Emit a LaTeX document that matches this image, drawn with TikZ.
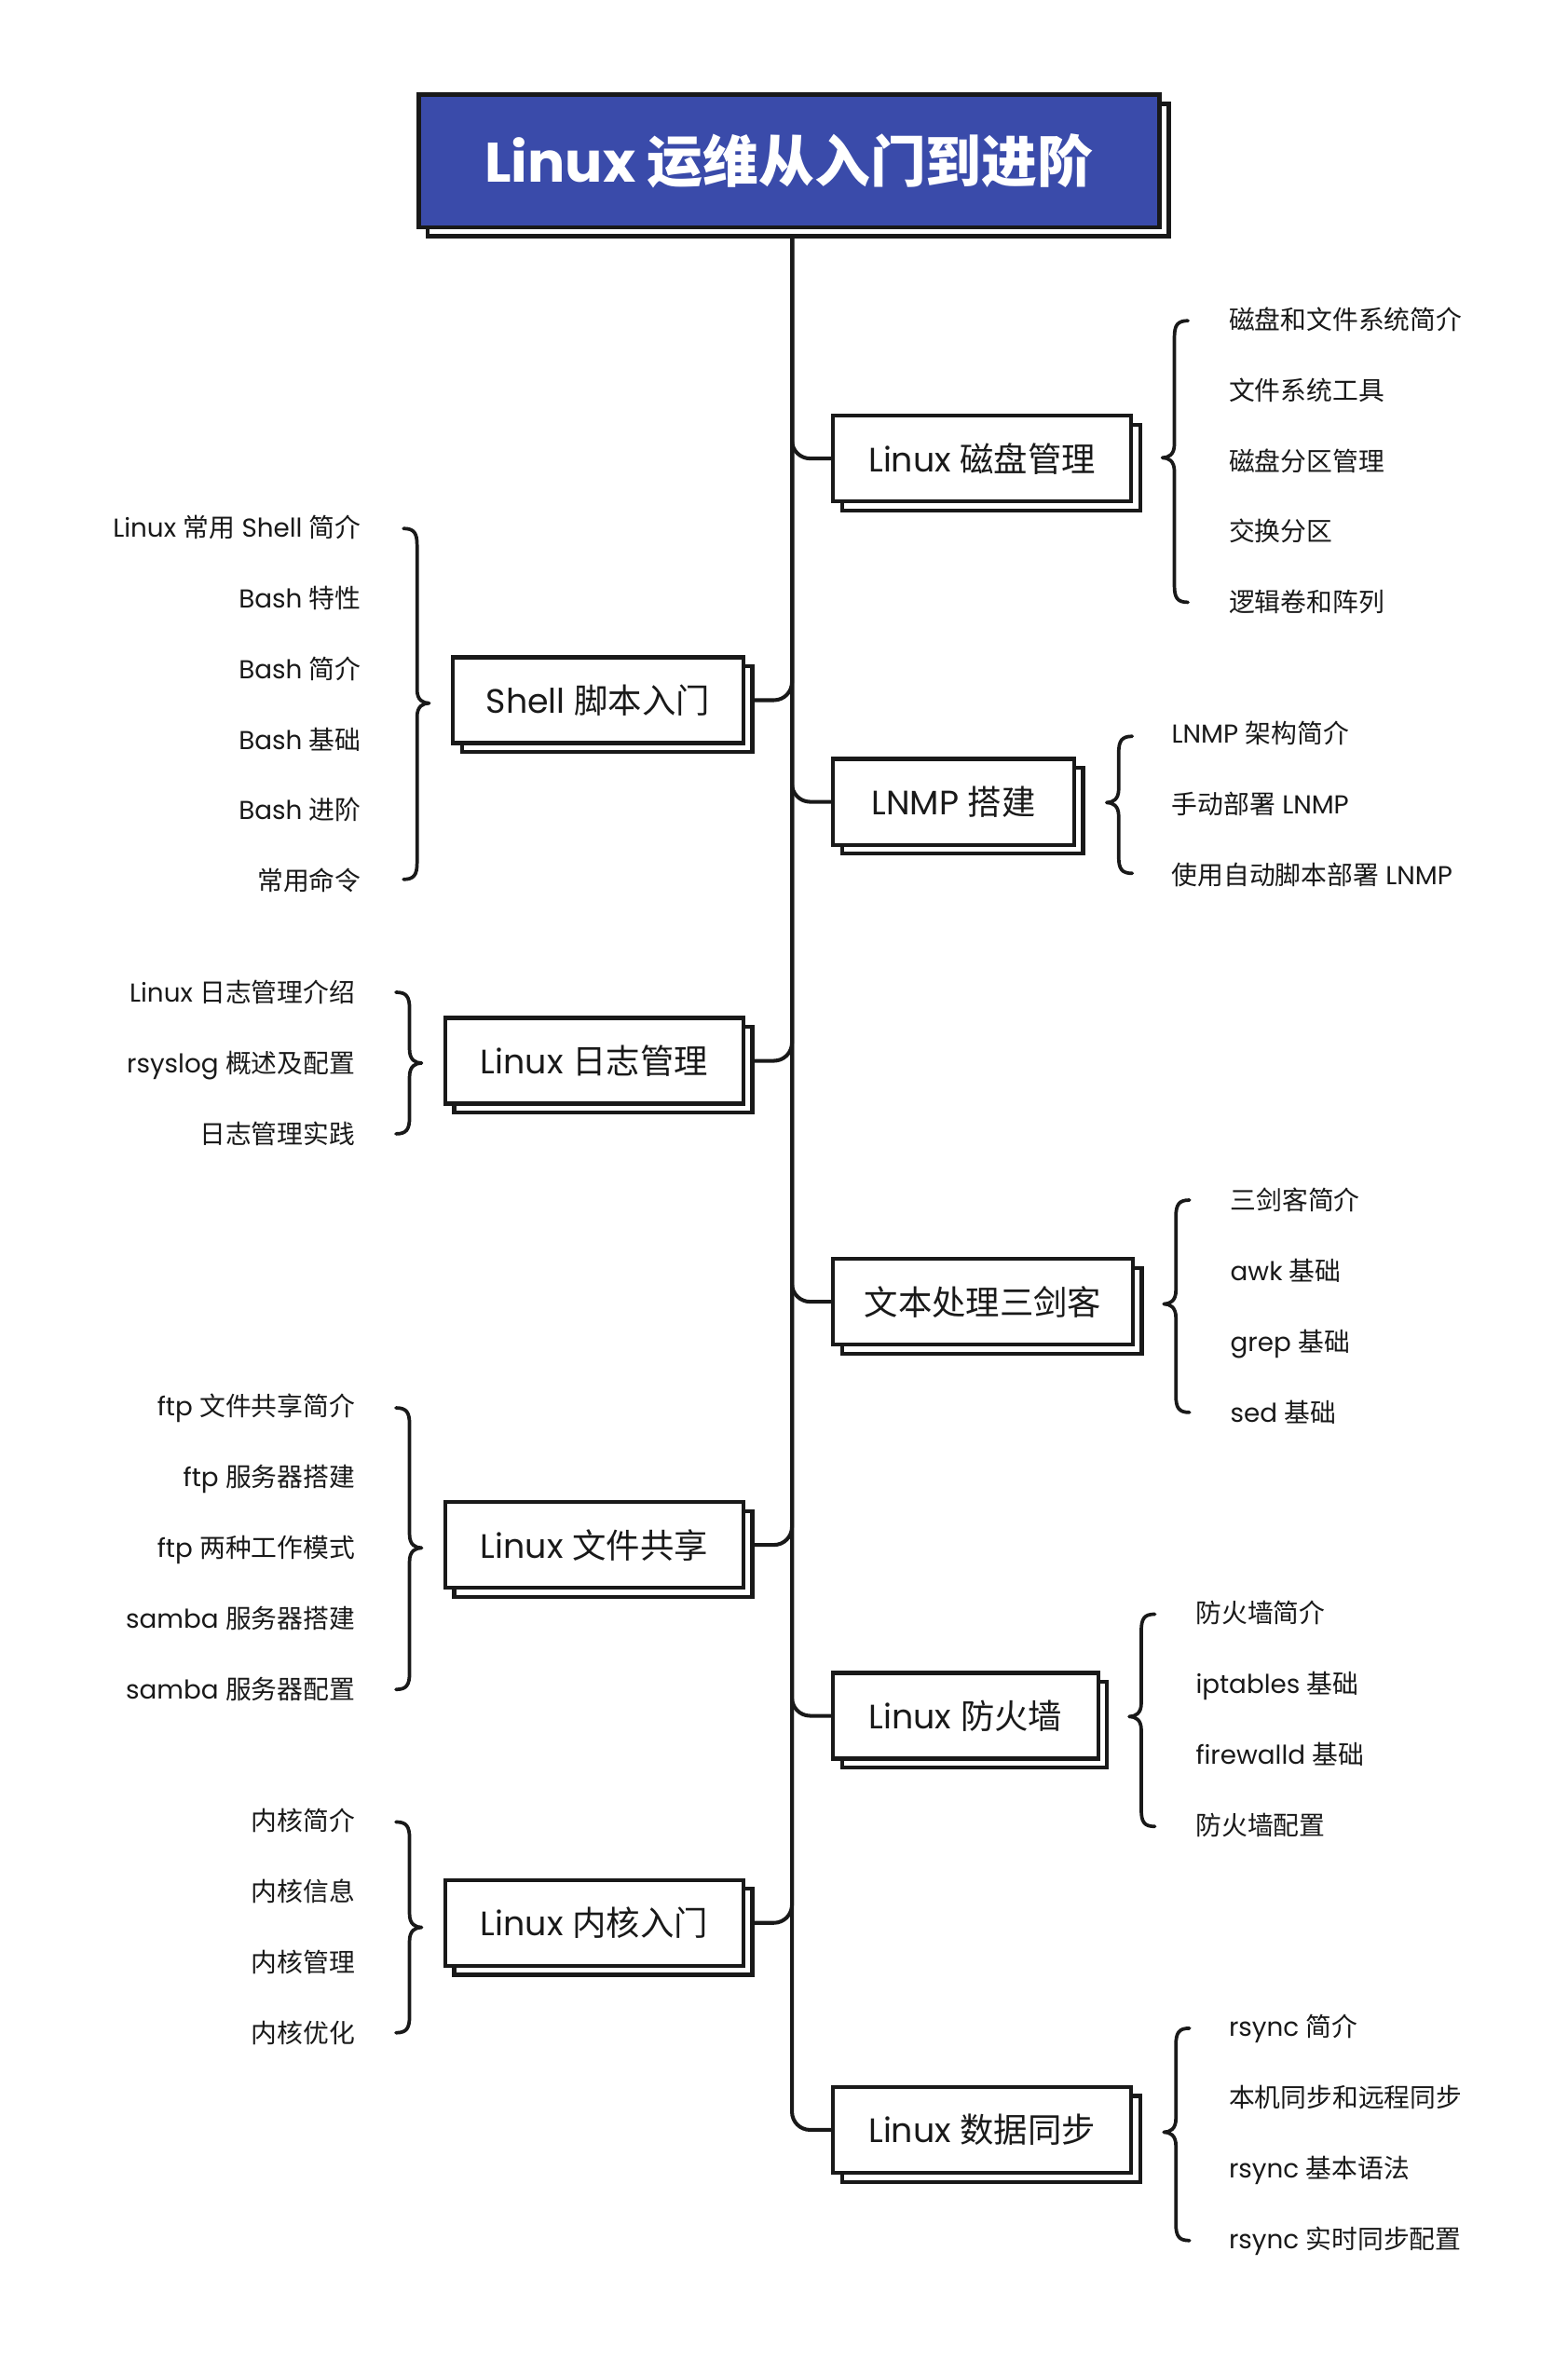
\documentclass[tikz,border=0pt]{standalone}
\usepackage{fontspec}
\usetikzlibrary{shadows}
\setmainfont{Poppins}
\newfontfamily\cjkfam{Noto Sans CJK SC}
\newfontfamily\latfam{Poppins}
\XeTeXinterchartokenstate=1
\newXeTeXintercharclass\CJKcls
\count255="4E00\relax
\loop\XeTeXcharclass\count255=\CJKcls\relax\ifnum\count255<"9FFF\relax\advance\count255 by 1\relax\repeat
\XeTeXinterchartoks 0 \CJKcls={\cjkfam}
\XeTeXinterchartoks 4095 \CJKcls={\cjkfam}
\XeTeXinterchartoks \CJKcls 0={\latfam}
\XeTeXinterchartoks \CJKcls 4095={\latfam}
\definecolor{titleblue}{RGB}{58,75,170}
\definecolor{ink}{RGB}{25,25,25}
\pgfdeclarelayer{bg}
\pgfsetlayers{bg,main}
\newcommand\BrR[4]{% tip x, top, mid, bottom; tip points left
  \draw[bracestyle] ({#1+17},#2) .. controls ({#1+10},#2) and ({#1+8},{#2+3}) .. ({#1+8},{#2+11})
    -- ({#1+8},{#3-9}) .. controls ({#1+8},{#3-2}) and ({#1+4},#3) .. (#1,#3)
    .. controls ({#1+4},#3) and ({#1+8},{#3+2}) .. ({#1+8},{#3+9})
    -- ({#1+8},{#4-11}) .. controls ({#1+8},{#4-3}) and ({#1+10},#4) .. ({#1+17},#4);}
\newcommand\BrL[4]{% tip x, top, mid, bottom; tip points right
  \draw[bracestyle] ({#1-17},#2) .. controls ({#1-10},#2) and ({#1-8},{#2+3}) .. ({#1-8},{#2+11})
    -- ({#1-8},{#3-9}) .. controls ({#1-8},{#3-2}) and ({#1-4},#3) .. (#1,#3)
    .. controls ({#1-4},#3) and ({#1-8},{#3+2}) .. ({#1-8},{#3+9})
    -- ({#1-8},{#4-11}) .. controls ({#1-8},{#4-3}) and ({#1-10},#4) .. ({#1-17},#4);}
\begin{document}
\begin{tikzpicture}[x=1pt,y=-1pt,
  boxline/.style={line width=2.6pt, draw=ink},
  titlebox/.style={boxline, line width=3pt, fill=titleblue, text=white, inner sep=0pt,
    font=\fontsize{37}{42}\selectfont\bfseries,
    general shadow={draw=ink, line width=3pt, fill=white, shadow xshift=6pt, shadow yshift=-6pt}},
  branch/.style={boxline, fill=white, minimum height=57pt, inner sep=0pt,
    text=ink, font=\fontsize{22.5}{27}\selectfont,
    general shadow={draw=ink, line width=2.6pt, fill=white, shadow xshift=6pt, shadow yshift=-6pt}},
  leaf/.style={inner sep=0pt, text=ink, font=\fontsize{17.2}{21}\selectfont, text height=15.5pt, text depth=2.5pt},
  conn/.style={line width=2.5pt, draw=ink, rounded corners=12pt},
  bracestyle/.style={line width=2.3pt, draw=ink, line cap=round, line join=round}]
\useasboundingbox (0,0) rectangle (1041,1568);

% title
\node[titlebox, minimum width=492pt, minimum height=88pt] (title) at (524,107) {Linux 运维从入门到进阶};
\coordinate (root) at ([xshift=2pt]title.south);

% right branches
\node[branch, minimum width=198pt, anchor=west] (disk) at (552,304.5) {Linux 磁盘管理};
\node[branch, minimum width=160pt, anchor=west] (lnmp) at (552,532.5) {LNMP 搭建};
\node[branch, minimum width=199pt, anchor=west] (text) at (552,864.5) {文本处理三剑客};
\node[branch, minimum width=176pt, anchor=west] (fw) at (552,1139.5) {Linux 防火墙};
\node[branch, minimum width=198pt, anchor=west] (sync) at (552,1414.5) {Linux 数据同步};

% left branches
\node[branch, minimum width=193pt, anchor=east] (shell) at (495,465) {Shell 脚本入门};
\node[branch, minimum width=198pt, anchor=east] (log) at (495,704.5) {Linux 日志管理};
\node[branch, minimum width=198pt, anchor=east] (share) at (495,1026) {Linux 文件共享};
\node[branch, minimum width=198pt, anchor=east] (kern) at (495,1277) {Linux 内核入门};

% connectors
\begin{pgfonlayer}{bg}
\fill[white] (0,0) rectangle (1041,1568);
\draw[conn] (root) |- (disk.west);
\draw[conn] (root) |- (lnmp.west);
\draw[conn] (root) |- (text.west);
\draw[conn] (root) |- (fw.west);
\draw[conn] (root) |- (sync.west);
\draw[conn] (root) |- ([xshift=6pt]shell.east);
\draw[conn] (root) |- ([xshift=6pt]log.east);
\draw[conn] (root) |- ([xshift=6pt]share.east);
\draw[conn] (root) |- ([xshift=6pt]kern.east);
\end{pgfonlayer}

% disk leaves
\node[leaf, anchor=west] (d1) at (816,212) {磁盘和文件系统简介};
\node[leaf, anchor=west] (d2) at (816,259) {文件系统工具};
\node[leaf, anchor=west] (d3) at (816,306) {磁盘分区管理};
\node[leaf, anchor=west] (d4) at (816,353) {交换分区};
\node[leaf, anchor=west] (d5) at (816,400) {逻辑卷和阵列};
\BrR{772}{213}{304}{400}

% lnmp leaves
\node[leaf, anchor=west] (l1) at (778,487) {LNMP 架构简介};
\node[leaf, anchor=west] (l2) at (778,534) {手动部署 LNMP};
\node[leaf, anchor=west] (l3) at (778,581) {使用自动脚本部署 LNMP};
\BrR{735}{489}{533}{580}

% text leaves
\node[leaf, anchor=west] (t1) at (817,797) {三剑客简介};
\node[leaf, anchor=west] (t2) at (817,844) {awk 基础};
\node[leaf, anchor=west] (t3) at (817,891) {grep 基础};
\node[leaf, anchor=west] (t4) at (817,938) {sed 基础};
\BrR{773}{797}{866}{938}

% firewall leaves
\node[leaf, anchor=west] (f1) at (794,1071) {防火墙简介};
\node[leaf, anchor=west] (f2) at (794,1118) {iptables 基础};
\node[leaf, anchor=west] (f3) at (794,1165) {firewalld 基础};
\node[leaf, anchor=west] (f4) at (794,1212) {防火墙配置};
\BrR{750}{1072}{1140}{1213}

% sync leaves
\node[leaf, anchor=west] (s1) at (816,1346) {rsync 简介};
\node[leaf, anchor=west] (s2) at (816,1393) {本机同步和远程同步};
\node[leaf, anchor=west] (s3) at (816,1440) {rsync 基本语法};
\node[leaf, anchor=west] (s4) at (816,1487) {rsync 实时同步配置};
\BrR{773}{1347}{1416}{1488}

% shell leaves
\node[leaf, anchor=east] (h1) at (240,350) {Linux 常用 Shell 简介};
\node[leaf, anchor=east] (h2) at (240,397) {Bash 特性};
\node[leaf, anchor=east] (h3) at (240,444) {Bash 简介};
\node[leaf, anchor=east] (h4) at (240,491) {Bash 基础};
\node[leaf, anchor=east] (h5) at (240,538) {Bash 进阶};
\node[leaf, anchor=east] (h6) at (240,585) {常用命令};
\BrL{285}{351}{467}{584}

% log leaves
\node[leaf, anchor=east] (g1) at (236,659) {Linux 日志管理介绍};
\node[leaf, anchor=east] (g2) at (236,706) {rsyslog 概述及配置};
\node[leaf, anchor=east] (g3) at (236,753) {日志管理实践};
\BrL{280}{659}{706}{753}

% share leaves
\node[leaf, anchor=east] (p1) at (236,934) {ftp 文件共享简介};
\node[leaf, anchor=east] (p2) at (236,981) {ftp 服务器搭建};
\node[leaf, anchor=east] (p3) at (236,1028) {ftp 两种工作模式};
\node[leaf, anchor=east] (p4) at (236,1075) {samba 服务器搭建};
\node[leaf, anchor=east] (p5) at (236,1122) {samba 服务器配置};
\BrL{280}{935}{1028}{1122}

% kernel leaves
\node[leaf, anchor=east] (k1) at (236,1209) {内核简介};
\node[leaf, anchor=east] (k2) at (236,1256) {内核信息};
\node[leaf, anchor=east] (k3) at (236,1303) {内核管理};
\node[leaf, anchor=east] (k4) at (236,1350) {内核优化};
\BrL{280}{1210}{1280}{1350}
\end{tikzpicture}
\end{document}
